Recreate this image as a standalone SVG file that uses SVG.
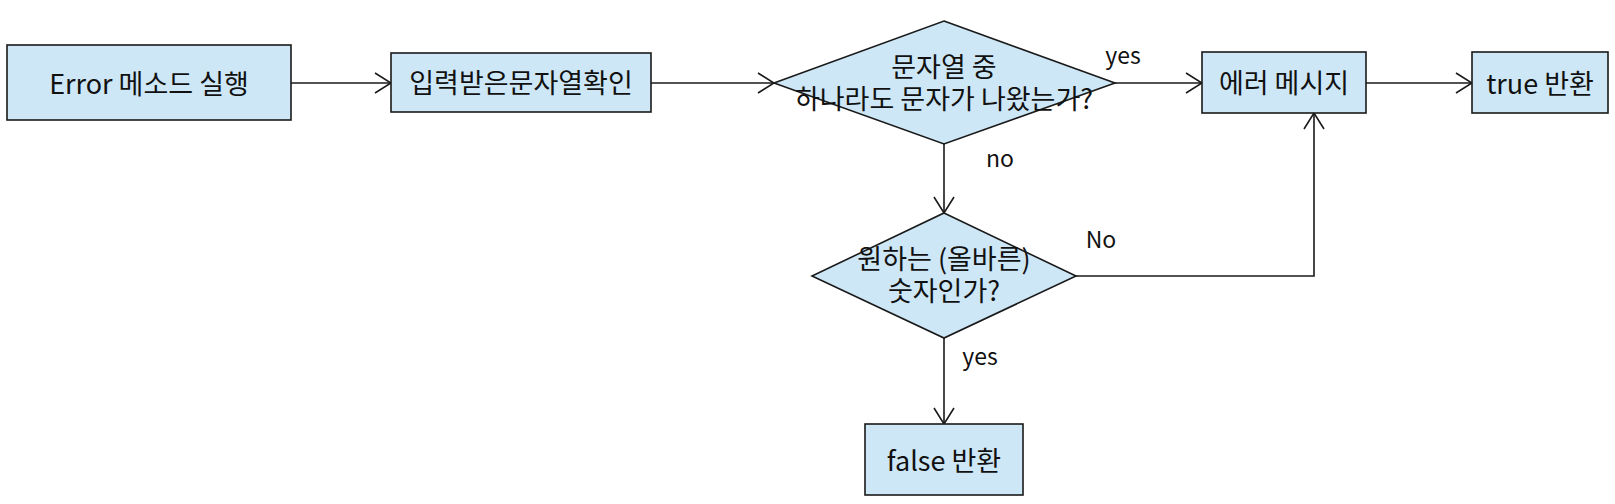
<svg xmlns="http://www.w3.org/2000/svg" width="1615" height="504" viewBox="0 0 1615 504">
<style>
.n{fill:#cde7f6;stroke:#1a1a1a;stroke-width:1.6}
.c{fill:none;stroke:#1a1a1a;stroke-width:1.6}
text{font-family:"Noto Sans CJK KR","Noto Sans",sans-serif;font-size:27px;fill:#111;text-anchor:middle;dominant-baseline:central}
.l{font-size:23px}
</style>
<defs>
<marker id="a" viewBox="0 0 18 22" refX="17" refY="11" markerWidth="18" markerHeight="22" markerUnits="userSpaceOnUse" orient="auto">
<path d="M1,1 L17,11 L1,21" fill="none" stroke="#1a1a1a" stroke-width="1.6"/>
</marker>
</defs>
<rect width="1615" height="504" fill="#fff"/>
<g id="connectors">
<line class="c" x1="291" y1="83" x2="391" y2="83" marker-end="url(#a)"/>
<line class="c" x1="651" y1="83" x2="774" y2="83" marker-end="url(#a)"/>
<line class="c" x1="1115" y1="83" x2="1202" y2="83" marker-end="url(#a)"/>
<line class="c" x1="1366" y1="83" x2="1472" y2="83" marker-end="url(#a)"/>
<line class="c" x1="944" y1="144" x2="944" y2="213" marker-end="url(#a)"/>
<polyline class="c" points="1076,276 1314,276 1314,113" marker-end="url(#a)"/>
<line class="c" x1="944" y1="338" x2="944" y2="424" marker-end="url(#a)"/>
<text class="l" x="1123" y="54">yes</text>
<text class="l" x="1000" y="157">no</text>
<text class="l" x="1101" y="238">No</text>
<text class="l" x="980" y="355">yes</text>
</g>
<g id="start">
<rect class="n" x="7" y="45" width="284" height="75"/>
<text x="149" y="82">Error 메소드 실행</text>
</g>
<g id="input">
<rect class="n" x="391" y="53" width="260" height="59"/>
<text x="521" y="81">입력받은문자열확인</text>
</g>
<g id="check1">
<polygon class="n" points="944,21 1115,83 944,144 774,83"/>
<text x="944" y="65">문자열 중</text>
<text x="944" y="97">하나라도 문자가 나왔는가?</text>
</g>
<g id="errmsg">
<rect class="n" x="1202" y="52" width="164" height="61"/>
<text x="1284" y="81">에러 메시지</text>
</g>
<g id="true">
<rect class="n" x="1472" y="52" width="136" height="61"/>
<text x="1540" y="82">true 반환</text>
</g>
<g id="check2">
<polygon class="n" points="944,213 1076,276 944,338 812,276"/>
<text x="944" y="257">원하는 (올바른)</text>
<text x="944" y="289">숫자인가?</text>
</g>
<g id="false">
<rect class="n" x="865" y="424" width="158" height="71"/>
<text x="944" y="459">false 반환</text>
</g>
</svg>
